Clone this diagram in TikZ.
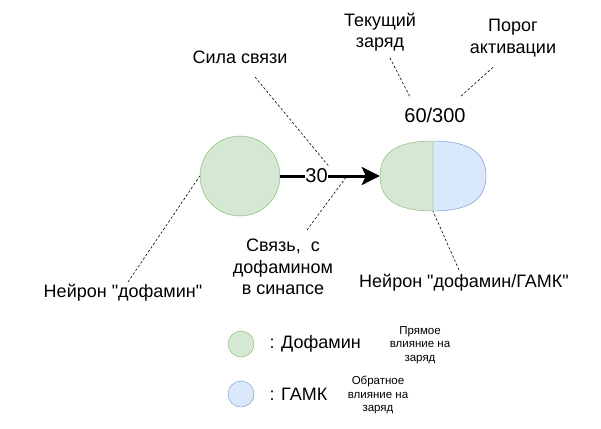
\documentclass[tikz,border=0pt]{standalone}
\usepackage{fontspec}
\setmainfont{Liberation Sans}[Ligatures=TeXOff]
\usetikzlibrary{arrows.meta}
\definecolor{dopfill}{HTML}{D5E8D4}
\definecolor{dopline}{HTML}{82B366}
\definecolor{gabafill}{HTML}{DAE8FC}
\definecolor{gabaline}{HTML}{6C8EBF}
\begin{document}
\begin{tikzpicture}[x=1pt, y=-1pt, line join=round, line cap=round,
		font=\fontsize{18}{21.6}\selectfont,
		note/.style={line width=.6pt, dash pattern=on 2.5pt off 2pt, line cap=butt},
		big/.style={font=\fontsize{20}{24}\selectfont},
		small/.style={font=\fontsize{11.5}{13.6}\selectfont, align=center}]
	\useasboundingbox (0,0) rectangle (601,428);
	% neurons
	\node[circle, draw=dopline, fill=dopfill, minimum size=80pt, inner sep=0pt] (dop) at (240,176) {};
	\node[minimum width=106pt, minimum height=70pt, inner sep=0pt] (mix) at (433,176) {};
	\draw[draw=gabaline, fill=gabafill] (433,141) .. controls (474,141) and (486,156) .. (486,176)
		.. controls (486,196) and (474,211) .. (433,211) -- cycle;
	\draw[draw=dopline, fill=dopfill] (433,141) .. controls (392,141) and (380,156) .. (380,176)
		.. controls (380,196) and (392,211) .. (433,211) -- cycle;
	% synapse
	\draw[line width=3pt, line cap=butt, -{Stealth[length=18pt, width=18pt, inset=4pt]}] (dop) -- (mix)
		node[big, pos=.365, fill=white, inner sep=.3pt] (w) {30};
	\coordinate (syn) at (347,176);
	\node[big] (charge) at (435,115) {60/300};
	% labels
	\node[align=center] (cur) at (380,32) {Текущий\\заряд};
	\node[align=center] (thr) at (513,38) {Порог\\активации};
	\node (str) at (240,57) {Сила связи};
	\node[align=center] (link) at (283,267) {Связь,\ \ с\\дофамином\\в синапсе};
	\node (ndop) at (123,293) {Нейрон "дофамин"};
	\node (nmix) at (464,283) {Нейрон "дофамин/ГАМК"};
	\draw[note] (cur.south) ++(10,3) -- (410,97);
	\draw[note] (thr.south) ++(-20,7) -- (460,97);
	\draw[note] (255,77) -- (w.north east);
	\draw[note] (307,230) -- (syn);
	\draw[note] (128,282) -- (dop.west);
	\draw[note] (459,270) -- (mix.south);
	% legend
	\node[circle, draw=dopline, fill=dopfill, minimum size=26pt, inner sep=0pt] (ldop) at (241,344) {};
	\node[circle, draw=gabaline, fill=gabafill, minimum size=26pt, inner sep=0pt] (lgaba) at (241,394) {};
	\node[anchor=west] (tdop) at (266,344) {: Дофамин};
	\node[anchor=west] (tgaba) at (266,394) {: ГАМК};
	\node[small] (ddop) at (420,345) {Прямое\\влияние на\\заряд};
	\node[small] (dgaba) at (378,395) {Обратное\\влияние на\\заряд};
\end{tikzpicture}
\end{document}
